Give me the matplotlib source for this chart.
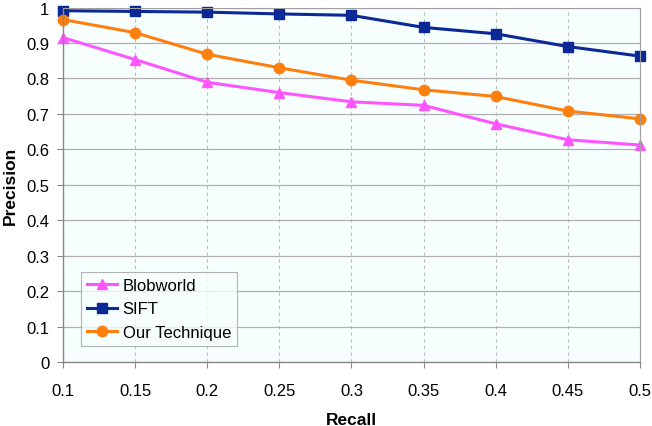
import matplotlib
matplotlib.use("Agg")
import matplotlib.pyplot as plt

recall = [0.1, 0.15, 0.2, 0.25, 0.3, 0.35, 0.4, 0.45, 0.5]
blobworld = [0.915, 0.853, 0.789, 0.760, 0.734, 0.724, 0.672, 0.627, 0.612]
sift = [0.991, 0.989, 0.987, 0.982, 0.978, 0.944, 0.926, 0.890, 0.863]
ours = [0.966, 0.929, 0.868, 0.830, 0.795, 0.768, 0.749, 0.708, 0.686]
yticks = [0, 0.1, 0.2, 0.3, 0.4, 0.5, 0.6, 0.7, 0.8, 0.9, 1]
ytick_labels = ["0", "0.1", "0.2", "0.3", "0.4", "0.5", "0.6", "0.7", "0.8", "0.9", "1"]

plt.rcParams['font.family'] = ['Liberation Sans', 'DejaVu Sans']

fig = plt.figure(figsize=(6.52, 4.27), dpi=100)
ax = fig.add_axes([0.0971, 0.150, 0.884, 0.830])
ax.set_facecolor('#F7FEFE')

ax.plot(recall, blobworld, color='#FF55FF', lw=2.2, marker='^', ms=7.5, label='Blobworld')
ax.plot(recall, sift, color='#0A2896', lw=2.2, marker='s', ms=7, label='SIFT')
ax.plot(recall, ours, color='#FF7F0E', lw=2.2, marker='o', ms=7.5, label='Our Technique')

ax.set_xlim(0.1, 0.5)
ax.set_ylim(0, 1)
ax.set_xticks(recall)
ax.set_xticklabels([f"{v:g}" for v in recall])
ax.set_yticks(yticks)
ax.set_yticklabels(ytick_labels)
for ln in ax.lines:
    ln.set_clip_on(False)

ax.grid(axis='y', color='#B0B0B0', lw=0.9, ls='-')
ax.grid(axis='x', color='#BDBDBD', lw=0.8, ls=(0, (3, 3)))
ax.set_axisbelow(True)

for s in ['left', 'bottom']:
    ax.spines[s].set_color('#888888')
    ax.spines[s].set_linewidth(1.0)
for s in ['top', 'right']:
    ax.spines[s].set_color('#A0A0A0')
    ax.spines[s].set_linewidth(0.8)

ax.tick_params(axis='x', direction='out', length=4, color='#888888', labelsize=12, pad=11)
ax.tick_params(axis='y', direction='out', length=4, color='#888888', labelsize=12, pad=6)

ax.set_xlabel('Recall', fontsize=12.5, fontweight='bold', labelpad=10)
ax.set_ylabel('Precision', fontsize=12.5, fontweight='bold', labelpad=6)

leg = ax.legend(loc='lower left', bbox_to_anchor=(0.0307, 0.046), fontsize=12,
                frameon=True, fancybox=False, edgecolor='#A0A0A0',
                handlelength=1.8, handletextpad=0.35, borderpad=0.35,
                borderaxespad=0, labelspacing=0.5)
leg.get_frame().set_linewidth(0.8)
leg.get_frame().set_facecolor('#F7FEFE')

fig.savefig('out.png', dpi=100)
